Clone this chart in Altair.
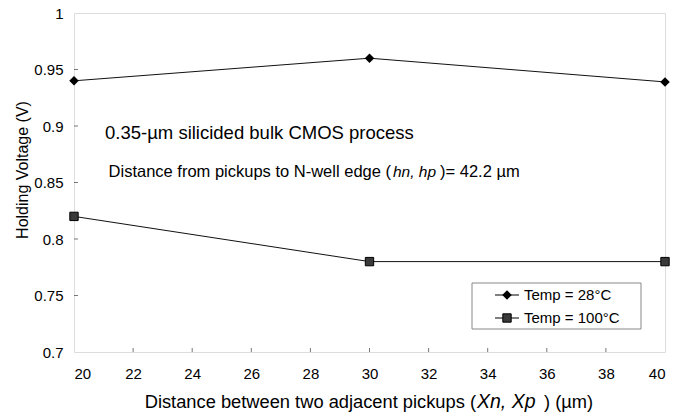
import altair as alt
import pandas as pd

# ---- data ----
x_vals = [20, 30, 40]
temp28 = [0.94, 0.96, 0.939]
temp100 = [0.82, 0.78, 0.78]
series_names = ["Temp = 28°C", "Temp = 100°C"]
x_ticks = [20, 22, 24, 26, 28, 30, 32, 34, 36, 38, 40]
y_ticks = [0.7, 0.75, 0.8, 0.85, 0.9, 0.95, 1.0]

FONT = "Liberation Sans"
W, H = 591, 339

df = pd.DataFrame({
    "x": x_vals * 2,
    "y": temp28 + temp100,
    "series": [series_names[0]] * 3 + [series_names[1]] * 3,
})
d28 = df[df.series == series_names[0]]
d100 = df[df.series == series_names[1]]

xs = alt.Scale(domain=[20, 40], nice=False, zero=False)
ys = alt.Scale(domain=[0.7, 1.0], nice=False, zero=False)

xaxis = alt.Axis(values=x_ticks, format="d", grid=False, tickSize=0, labelPadding=14,
                 labelFontSize=15, labelFont=FONT, labelColor="black", domain=False, title=None)
yaxis = alt.Axis(values=y_ticks, format="~g", grid=False, tickSize=0, labelPadding=11,
                 labelFontSize=15, labelFont=FONT, labelColor="black", domain=False, title=None)

base_x = alt.X("x:Q", scale=xs, axis=xaxis)
base_y = alt.Y("y:Q", scale=ys, axis=yaxis)

lines = alt.Chart(df).mark_line(color="#111", strokeWidth=1).encode(
    x=base_x, y=base_y, detail="series:N")
pts28 = alt.Chart(d28).mark_point(shape="diamond", filled=True, color="black", size=90, opacity=1).encode(
    x=alt.X("x:Q", scale=xs), y=alt.Y("y:Q", scale=ys))
pts100 = alt.Chart(d100).mark_point(shape="square", filled=True, fill="#3a3a3a", stroke="black",
                                    strokeWidth=1, size=70, opacity=1).encode(
    x=alt.X("x:Q", scale=xs), y=alt.Y("y:Q", scale=ys))

# inward ticks
xt = alt.Chart(pd.DataFrame({"x": x_ticks[1:-1]})).mark_rule(color="#777", strokeWidth=1).encode(
    x=alt.X("x:Q", scale=xs), y=alt.value(H), y2=alt.value(H - 4))
yt = alt.Chart(pd.DataFrame({"y": y_ticks[1:-1]})).mark_rule(color="#777", strokeWidth=1).encode(
    y=alt.Y("y:Q", scale=ys), x=alt.value(0), x2=alt.value(4))

def txt(text, x, y, size, style="normal", align="left", baseline="alphabetic", angle=0):
    return alt.Chart(pd.DataFrame({"t": [text]})).mark_text(
        align=align, baseline=baseline, fontSize=size, font=FONT, fontStyle=style,
        color="black", angle=angle).encode(x=alt.value(x), y=alt.value(y), text="t:N")

annots = [
    txt("0.35-µm silicided bulk CMOS process", 31, 126, 18.5),
    txt("Distance from pickups to N-well edge (", 317, 164, 16.5, align="right"),
    txt("hn, hp", 319, 164, 15.5, style="italic"),
    txt(")= 42.2 µm", 366, 164, 16.5),
    txt("Distance between two adjacent pickups (", 402, 395, 18.3, align="right"),
    txt("Xn, Xp", 403, 395, 19.5, style="italic"),
    txt(")  (µm)", 470, 395, 18.3),
    txt("Holding Voltage (V)", -51, 157, 16, align="center", baseline="middle", angle=270),
]

# legend
leg_box = alt.Chart(pd.DataFrame({"a": [0]})).mark_rect(fill="white", stroke="#888", strokeWidth=1).encode(
    x=alt.value(398), x2=alt.value(567), y=alt.value(270), y2=alt.value(316))
leg = [leg_box]
for i, (name, shape, fill, size) in enumerate(
        [(series_names[0], "diamond", "black", 90), (series_names[1], "square", "#3a3a3a", 70)]):
    yy = 282 + i * 23
    leg.append(alt.Chart(pd.DataFrame({"a": [0]})).mark_rule(color="black", strokeWidth=1).encode(
        x=alt.value(421), x2=alt.value(445), y=alt.value(yy)))
    leg.append(alt.Chart(pd.DataFrame({"a": [0]})).mark_point(
        shape=shape, filled=True, fill=fill, stroke="black", strokeWidth=1 if shape == "square" else 0,
        size=size, opacity=1).encode(x=alt.value(433), y=alt.value(yy)))
    leg.append(txt(name, 450, yy, 15, baseline="middle"))

chart = alt.layer(lines, xt, yt, pts28, pts100, *leg, *annots).properties(
    width=W, height=H,
    autosize=alt.AutoSizeParams(type="none"),
    padding={"left": 74, "top": 13, "right": 9, "bottom": 63},
).configure_view(stroke="#888", strokeWidth=1).configure(background="white")

chart.save("out.html", embed_options={"renderer": "svg", "actions": False})
